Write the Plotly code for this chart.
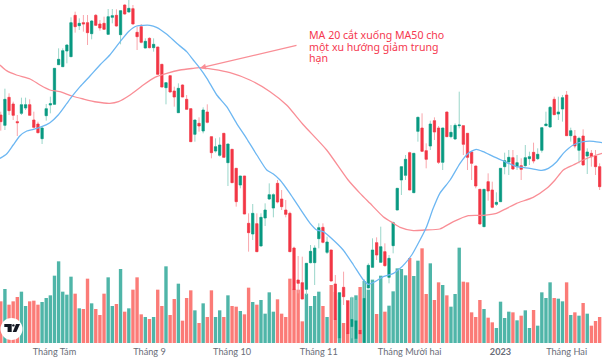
import plotly.graph_objects as go

W, H, BOTTOM = 602, 360, 17
PLOT_H = H - BOTTOM

open_ = [735,704,788,768,715,740,756,766,720,708,664,733,765,767,886,880,927,910,1034,1003,1012,1012,979,1034,1008,1010,977,1028,1034,976,1065,1044,1054,983,1000,936,965,937,939,887,817,853,807,742,825,782,754,677,710,687,744,670,627,614,680,592,632,575,525,552,410,378,409,342,426,483,456,530,483,450,440,336,240,232,212,292,292,364,398,323,330,228,65,218,177,100,64,90,52,216,278,352,293,325,248,343,450,540,554,622,502,686,696,628,642,718,696,593,744,670,663,703,703,680,624,582,512,400,535,510,467,475,580,594,607,580,583,583,604,623,604,629,703,699,782,738,753,795,673,672,629,672,612,620,612,580]
high = [745,814,800,775,735,787,787,782,745,715,700,768,790,875,935,935,947,1028,1045,1025,1035,1035,1020,1038,1020,1030,1053,1053,1052,1050,1067,1080,1065,1000,1008,965,968,965,939,887,832,853,820,830,827,795,754,720,728,758,767,670,665,668,680,648,632,575,552,552,440,468,440,440,470,530,500,540,510,480,445,340,312,310,290,345,344,410,410,370,330,255,202,265,177,190,180,90,242,290,365,368,400,350,315,415,515,580,615,625,620,730,740,650,718,728,702,696,744,705,710,805,703,680,624,582,512,512,560,535,503,575,622,630,630,615,605,645,625,652,635,697,745,762,790,790,795,807,697,690,670,692,635,630,630,590]
low = [688,690,735,720,672,735,750,734,695,680,648,718,740,767,885,880,890,910,982,990,985,945,962,1002,988,990,975,1010,1000,947,1036,1043,1008,930,950,935,935,925,855,819,767,804,760,742,789,750,655,655,685,680,710,605,622,610,608,522,532,460,515,438,325,360,325,342,402,480,428,470,450,428,325,210,200,183,195,290,225,335,350,318,237,120,65,165,78,65,64,50,52,216,278,300,293,280,230,320,450,495,540,510,502,655,624,575,630,660,588,570,670,665,660,695,615,570,540,515,408,400,478,455,462,475,557,555,570,570,540,580,585,590,600,622,702,698,735,720,715,673,655,635,590,585,558,580,555,510]
close = [715,782,748,734,712,766,766,734,698,682,696,754,769,875,902,928,945,1012,1000,1010,1008,982,1017,1004,996,992,1030,1033,1002,1048,1038,1055,1008,970,953,956,937,947,857,819,832,804,789,815,789,752,655,720,702,750,713,622,640,645,608,648,532,475,552,438,382,440,325,428,450,496,496,474,460,437,325,210,230,183,290,326,336,397,353,354,237,120,202,190,78,122,118,78,185,284,330,315,340,283,305,412,515,580,602,510,620,728,626,602,708,684,593,696,670,683,704,705,647,608,590,522,408,512,507,458,473,575,598,608,573,592,572,607,610,597,617,697,708,758,736,744,787,673,688,642,665,585,624,610,580,520]
volume = [125,162,115,125,138,154,111,125,127,115,123,135,143,202,245,154,145,199,148,104,102,193,119,102,84,148,197,111,117,222,94,104,160,197,86,78,72,78,160,111,230,84,132,178,67,135,158,98,60,
          119,78,158,78,98,78,143,111,109,96,86,166,123,115,129,88,152,94,131,88,78,193,162,160,65,148,111,141,154,111,78,174,153,130,60,129,137,143,168,186,160,190,87,202,94,112,155,224,
          222,203,255,201,247,284,147,239,129,182,174,143,109,147,286,184,182,92,78,129,102,76,62,45,124,75,94,92,68,82,98,45,99,52,152,135,182,135,133,125,182,84,92,82,120,88,52,66,78]
ma20_x = [-0.2,1.4,3.0,4.6,6.3,7.9,9.9,11.9,13.9,16,17.2,19.2,21.6,24,26.4,28.9,30.9,32.9,34.5,36.1,37.7,40.2,42.6,45,46.6,48.1,49.9,52.3,54.7,57.1,59.5,62,64.4,66,67.6,70,72.4,74.9,76.5,78.1,80.5,82.9,85.4,87.8,89,90.6,92.6,95.1,96.7,97.9,99.5,101.5,103.1,104.7,106.3,108.8,111.2,113.2,115.1,116.8,119.3,121.7,124.9,128.1,131,132.6,134.6,136.2,138.6,141,143.5,145.6]
ma20_y = [605,618,645,672,687,692,700,712,735,770,790,820,852,885,915,955,985,1002,1004,1004,998,977,950,925,900,877,845,795,760,710,665,615,570,558,540,500,455,410,390,385,360,330,285,240,227,235,250,260,275,290,315,360,400,455,500,540,590,620,632,625,610,597,580,575,569,575,595,620,645,655,656,652]
ma50_x = [-0.2,1.4,3.8,7.1,9.5,11.9,14.3,17.2,20,23.2,26.4,28.5,31.3,34.5,37.3,40.2,43.4,46.6,48.1,51.5,55.5,60.3,65.2,69.2,73.3,78.9,84.1,87,89.4,92.6,95.1,96.7,99.9,102.7,106.3,109.6,113.2,116.8,120,122.5,124.9,128.9,132.2,134.2,136.2,138.6,141,144.3,145.6]
ma50_y = [885,868,855,843,825,810,805,792,783,774,770,775,795,825,848,860,870,875,877,872,862,840,805,765,705,630,540,500,470,430,410,398,388,390,393,415,433,434,440,455,470,488,515,540,570,585,600,615,620]
tick_pos = [13,36,56,77,99,121,137]
tick_txt = ["Tháng Tám","Tháng 9","Tháng 10","Tháng 11","Tháng Mười hai","<b>2023</b>","Tháng Hai"]
note_lines = ["MA 20 cắt xuống MA50 cho", "một xu hướng giảm trung", "hạn"]
note_y = [35, 46.5, 58]

assert len(open_)==len(high)==len(low)==len(close)==len(volume)==146
assert len(ma20_x)==len(ma20_y) and len(ma50_x)==len(ma50_y)
idx = list(range(len(open_)))

GREEN, RED = "#089981", "#f23645"
GREEN_W, RED_W = "#9ad6ca", "#f9a6ac"
GREEN_V, RED_V = "#4fb5a8", "#fb7b77"

fig = go.Figure()
fig.add_bar(x=idx, y=volume, yaxis="y", xaxis="x",
            marker=dict(color=[GREEN_V if c >= o else RED_V for o, c in zip(open_, close)], line_width=0),
            hoverinfo="skip")
# wicks
fig.add_candlestick(x=idx, open=open_, high=high, low=low, close=close, yaxis="y2", xaxis="x",
                    whiskerwidth=0,
                    increasing=dict(line=dict(color=GREEN_W, width=1), fillcolor=GREEN_W),
                    decreasing=dict(line=dict(color=RED_W, width=1), fillcolor=RED_W))
# bodies
fig.add_candlestick(x=idx, open=open_, close=close, yaxis="y2", xaxis="x",
                    high=[max(o, c) for o, c in zip(open_, close)],
                    low=[min(o, c) for o, c in zip(open_, close)],
                    whiskerwidth=0,
                    increasing=dict(line=dict(color=GREEN, width=0.5), fillcolor=GREEN),
                    decreasing=dict(line=dict(color=RED, width=0.5), fillcolor=RED))
fig.add_scatter(x=ma50_x, y=ma50_y, yaxis="y2", mode="lines",
                line=dict(color="#f98e96", width=1.3, shape="spline", smoothing=0.6), hoverinfo="skip")
fig.add_scatter(x=ma20_x, y=ma20_y, yaxis="y2", mode="lines",
                line=dict(color="#6db7f2", width=1.3, shape="spline", smoothing=0.6), hoverinfo="skip")

def px(x): return x / W
def py(y): return 1 - y / PLOT_H

# TradingView badge
logo = [dict(type="circle", xref="paper", yref="paper", x0=px(0.5), x1=px(22.5), y0=py(340), y1=py(318),
             fillcolor="white", line_width=0, layer="above")]
def poly(pts):
    return "M" + " L".join(f"{px(a):.5f},{py(b):.5f}" for a, b in pts) + " Z"
logo_paths = [
    [(4.3,324),(11.7,324),(11.7,332),(7.6,332),(7.6,327),(4.3,327)],
    [(20,324),(16,324),(12.7,332),(16.4,332)],
]
for pts in logo_paths:
    logo.append(dict(type="path", xref="paper", yref="paper", path=poly(pts),
                     fillcolor="#131722", line_width=0, layer="above"))
logo.append(dict(type="circle", xref="paper", yref="paper", x0=px(12.2), x1=px(14.6), y0=py(326.6), y1=py(324.2),
                 fillcolor="#131722", line_width=0, layer="above"))

annotations = [
    dict(xref="paper", yref="paper", x=px(308), y=py(yy), xanchor="left", yanchor="middle",
         text=line, align="left", showarrow=False,
         font=dict(family="Noto Sans, sans-serif", size=10.6, color="#f5384f"), borderpad=0)
    for line, yy in zip(note_lines, note_y)
]
annotations.append(dict(xref="paper", yref="paper", x=px(200), y=py(68), axref="pixel", ayref="pixel",
                        ax=98, ay=-23, text="", showarrow=True, arrowhead=2, arrowsize=1, arrowwidth=1.2,
                        arrowcolor="#f98e96"))

fig.update_layout(
    width=W, height=H, margin=dict(l=0, r=0, t=0, b=BOTTOM),
    paper_bgcolor="white", plot_bgcolor="white", showlegend=False,
    bargap=0.18, boxgap=0.22,
    font=dict(family="Lato, sans-serif"),
    xaxis=dict(range=[-0.19, 145.57], showgrid=False, zeroline=False, showline=False,
               tickmode="array", tickvals=tick_pos, ticktext=tick_txt, ticks="",
               tickfont=dict(family="Lato, sans-serif", size=9.2, color="#6a6d78"),
               rangeslider=dict(visible=False), ticklabelstandoff=2),
    yaxis=dict(range=[0, 1029], visible=False, fixedrange=True),
    yaxis2=dict(range=[51, 1080], overlaying="y", visible=False, fixedrange=True),
    shapes=logo,
    annotations=annotations,
)
fig.write_html("out.html", config=dict(displayModeBar=False),
               post_script="document.body.style.margin='0';document.documentElement.style.overflow='hidden';")
